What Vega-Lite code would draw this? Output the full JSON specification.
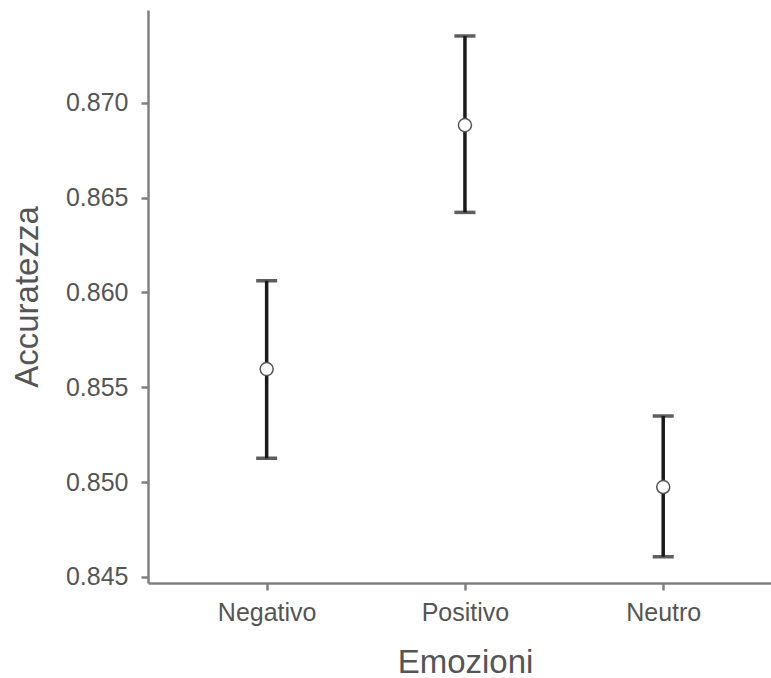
{
  "$schema": "https://vega.github.io/schema/vega-lite/v6.json",
  "autosize": "none",
  "width": 623,
  "height": 573,
  "padding": {"left": 148, "top": 10, "right": 0, "bottom": 95},
  "background": "white",
  "config": {
    "view": {"stroke": null},
    "axis": {
      "grid": false,
      "domainColor": "#808080",
      "domainWidth": 2.5,
      "tickColor": "#808080",
      "tickWidth": 2.5,
      "tickSize": 7,
      "labelFont": "Liberation Sans",
      "labelFontSize": 25,
      "labelColor": "#555555",
      "titleFont": "Liberation Sans",
      "titleFontSize": 33,
      "titleFontWeight": "normal",
      "titleColor": "#555555"
    }
  },
  "data": {
    "values": [
      {"Emozioni": "Negativo", "mean": 0.85596, "lower": 0.85126, "upper": 0.86062},
      {"Emozioni": "Positivo", "mean": 0.86882, "lower": 0.86422, "upper": 0.87352},
      {"Emozioni": "Neutro", "mean": 0.84974, "lower": 0.84607, "upper": 0.85349}
    ]
  },
  "encoding": {
    "x": {
      "field": "Emozioni",
      "type": "nominal",
      "sort": ["Negativo", "Positivo", "Neutro"],
      "scale": {"type": "point", "padding": 0.571, "align": 0.524},
      "axis": {"labelAngle": 0, "labelPadding": 10, "title": "Emozioni", "titleX": 317, "titlePadding": 21}
    }
  },
  "layer": [
    {
      "mark": {"type": "rule", "color": "#1a1a1a", "strokeWidth": 3.5},
      "encoding": {
        "y": {
          "field": "lower",
          "type": "quantitative",
          "scale": {"domain": [0.84468, 0.87489], "nice": false, "zero": false},
          "axis": {"values": [0.845, 0.85, 0.855, 0.86, 0.865, 0.87], "format": ".3f", "labelPadding": 13, "title": "Accuratezza", "titlePadding": 21}
        },
        "y2": {"field": "upper"}
      }
    },
    {
      "mark": {"type": "tick", "color": "#1a1a1a", "size": 21, "thickness": 3.5, "orient": "horizontal"},
      "encoding": {"y": {"field": "upper", "type": "quantitative"}}
    },
    {
      "mark": {"type": "tick", "color": "#1a1a1a", "size": 21, "thickness": 3.5, "orient": "horizontal"},
      "encoding": {"y": {"field": "lower", "type": "quantitative"}}
    },
    {
      "mark": {"type": "point", "shape": "circle", "filled": true, "fill": "white", "stroke": "#555555", "strokeWidth": 1.5, "size": 170, "opacity": 1},
      "encoding": {"y": {"field": "mean", "type": "quantitative"}}
    }
  ]
}
